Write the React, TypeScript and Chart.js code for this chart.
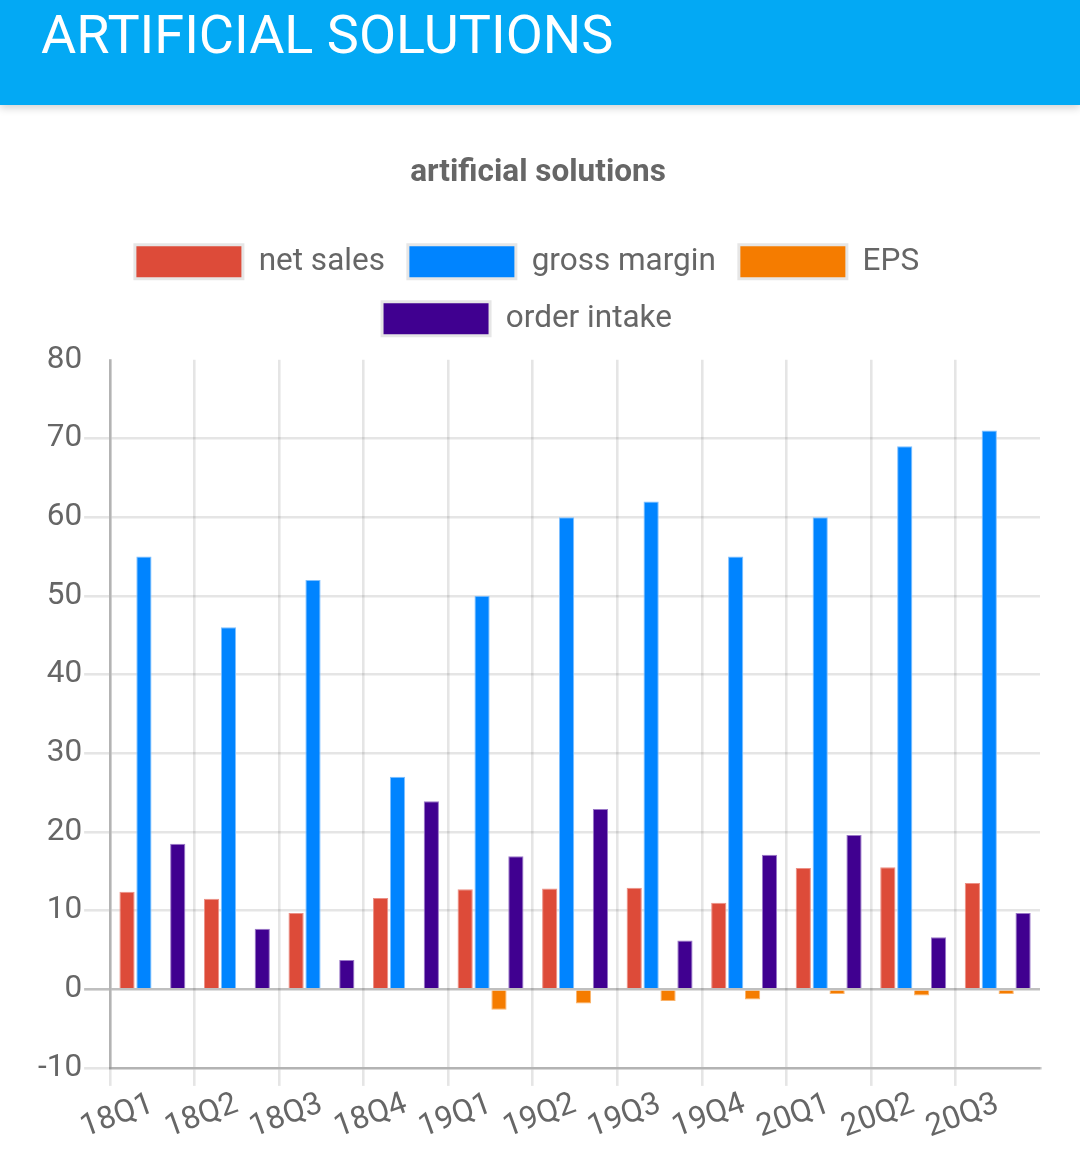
import React, { useEffect, useRef } from 'react';
import Chart from 'chart.js/auto';

const quarters = ['18Q1', '18Q2', '18Q3', '18Q4', '19Q1', '19Q2', '19Q3', '19Q4', '20Q1', '20Q2', '20Q3'];
const netSales = [12.4, 11.5, 9.7, 11.6, 12.7, 12.8, 12.9, 11.0, 15.4, 15.5, 13.5];
const grossMargin = [55, 46, 52, 27, 50, 60, 62, 55, 60, 69, 71];
const eps = [null, null, null, null, -2.6, -1.8, -1.5, -1.3, -0.6, -0.8, -0.6];
const orderIntake = [18.5, 7.7, 3.7, 23.9, 16.9, 22.9, 6.2, 17.1, 19.6, 6.6, 9.7];
const yTicks = [-10, 0, 10, 20, 30, 40, 50, 60, 70, 80];

const FONT = 31.5;
const TEXT = '#666';

// extra room under the legend and a small left shift, as in the original
const legendTweak = {
  id: 'legendTweak',
  afterInit(chart: any) {
    const legend = chart.legend;
    if (!legend) return;
    const origFit = legend.fit.bind(legend);
    legend.fit = () => {
      origFit();
      legend.height += 14;
    };
    const origDraw = legend.draw.bind(legend);
    legend.draw = () => {
      chart.ctx.save();
      chart.ctx.translate(-11, 0);
      origDraw();
      chart.ctx.restore();
    };
  },
};

const App: React.FC = () => {
  const canvasRef = useRef<HTMLCanvasElement | null>(null);
  const chartRef = useRef<Chart<'bar'> | null>(null);

  useEffect(() => {
    document.body.style.margin = '0';
    const ctx = canvasRef.current?.getContext('2d');
    if (!ctx) return;

    Chart.defaults.font.family = 'Roboto';

    chartRef.current = new Chart(ctx, {
      type: 'bar',
      data: {
        labels: quarters,
        datasets: [
          { label: 'net sales', data: netSales, backgroundColor: '#DD4B39', borderColor: '#ec9086', borderWidth: 1 },
          { label: 'gross margin', data: grossMargin, backgroundColor: '#0084FF', borderColor: '#7fc0ff', borderWidth: 1 },
          { label: 'EPS', data: eps, backgroundColor: '#F57C00', borderColor: '#fab36b', borderWidth: 1 },
          { label: 'order intake', data: orderIntake, backgroundColor: '#400090', borderColor: '#9a78c8', borderWidth: 1 },
        ],
      },
      options: {
        animation: false,
        responsive: true,
        maintainAspectRatio: false,
        layout: { padding: { left: 36, right: 40, top: 0, bottom: 10 } },
        plugins: {
          title: {
            display: true,
            text: 'artificial solutions',
            color: TEXT,
            font: { size: FONT, weight: 'bold' },
            padding: { top: 29, bottom: 30 },
          },
          legend: {
            labels: {
              color: TEXT,
              font: { size: FONT },
              boxWidth: 108,
              boxHeight: 34,
              padding: 23,
              generateLabels: (chart: any) =>
                Chart.defaults.plugins.legend.labels
                  .generateLabels(chart)
                  .map((item: any) => ({ ...item, strokeStyle: '#e6e6e6', lineWidth: 3 })),
            },
          },
          tooltip: { enabled: false },
        },
        scales: {
          x: {
            ticks: { color: TEXT, font: { size: FONT }, minRotation: 20, maxRotation: 20, padding: 0 },
            grid: {
              color: (c: any) => (c.type === 'tick' ? 'rgba(0,0,0,0.1)' : 'rgba(0,0,0,0)'),
              lineWidth: 2.6,
              tickLength: 18,
            },
            border: { color: 'rgba(0,0,0,0.22)', width: 2.6 },
          },
          y: {
            min: yTicks[0],
            max: yTicks[yTicks.length - 1],
            ticks: { color: TEXT, font: { size: FONT }, stepSize: 10, padding: 2 },
            grid: {
              color: (c: any) => {
                if (!c.tick) return 'rgba(0,0,0,0.1)';
                if (c.tick.value === 80) return 'rgba(0,0,0,0)';
                if (c.tick.value === 0) return 'rgba(0,0,0,0.25)';
                return 'rgba(0,0,0,0.1)';
              },
              lineWidth: 2.6,
              tickLength: 26,
            },
            border: { color: 'rgba(0,0,0,0.22)', width: 2.6 },
          },
        },
      },
      plugins: [legendTweak],
    });

    return () => {
      chartRef.current?.destroy();
      chartRef.current = null;
    };
  }, []);

  return (
    <div style={{ width: 1080, fontFamily: 'Roboto' }}>
      <div
        style={{
          height: 105,
          background: '#03A9F4',
          boxShadow: '0 3px 8px rgba(0,0,0,0.18)',
          position: 'relative',
          zIndex: 1,
        }}
      >
        <h1
          style={{
            margin: 0,
            paddingLeft: 41,
            fontSize: 54,
            lineHeight: '70px',
            fontWeight: 400,
            color: '#fff',
          }}
        >
          ARTIFICIAL SOLUTIONS
        </h1>
      </div>
      <div style={{ position: 'relative', height: 1032, marginTop: 20 }}>
        <canvas ref={canvasRef} />
      </div>
    </div>
  );
};

export default App;
